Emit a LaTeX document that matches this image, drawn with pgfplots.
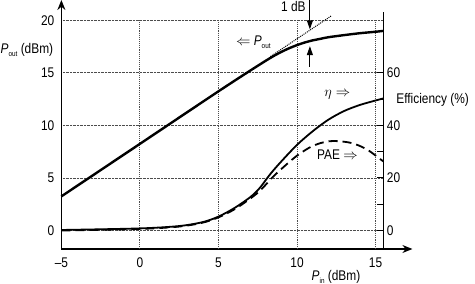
\documentclass[border=0pt]{standalone}
\usepackage{fontspec}
\setmainfont{Liberation Sans}[FakeStretch=0.85]
\usepackage{pgfplots}
\pgfplotsset{compat=1.18}
\usetikzlibrary{arrows.meta}

% Output power and efficiency of a power amplifier against input power
\pgfplotstableread{
pin   pout
-5    3.25
0     8.25
5     13.25
7     15.2
8     16.15
8.5   16.6
9     17.0
9.5   17.35
10    17.65
10.5  17.9
11    18.1
11.5  18.25
12    18.4
13    18.6
14    18.78
15    18.92
15.5  19.0
}\poutdata

\pgfplotstableread{
pin   eta
-5    0.2
0     0.8
2.5   1.7
4     3.2
5     5.3
6     8.5
7     12.6
7.6   16.0
8.3   21.5
9     26.3
10    32.6
11    37.8
12    42.2
13    45.5
14    47.8
15    49.5
15.5  50.3
}\etadata

\pgfplotstableread{
pin   pae
-5    0.0
0     0.6
2.5   1.5
4     3.0
5     5.0
6     8.0
6.8   11.2
7.6   14.9
8.5   20.6
9.3   25.0
10    28.5
10.8  31.6
11.5  33.3
12.1  34.0
12.7  34.0
13.4  33.4
14    32.2
14.6  30.3
15.3  27.2
15.5  26.3
}\paedata

\begin{document}
\begin{tikzpicture}[font=\fontsize{14}{16}\selectfont]
\pgfplotsset{
  every axis/.style={
    scale only axis, width=322pt, height=237pt,
    xmin=-5, xmax=15.5, clip=false,
  },
}
% left axis: output power
\begin{axis}[
  ymin=-1.76, ymax=20.8,
  axis x line*=bottom, axis y line*=left,
  x axis line style={-{Stealth[length=10pt,width=8pt]}, shorten >=-29pt, line width=1.5pt},
  y axis line style={-{Stealth[length=10pt,width=8pt]}, shorten >=-12pt, line width=1.5pt},
  xtick={-5,0,5,10,15},
  xticklabels={\textendash5,0,5,10,15},
  ytick={0,5,10,15,20},
  yticklabels={0,5,10,15,20},
  major tick length=0pt,
  ymajorgrids,
  major grid style={densely dotted, line width=0.9pt, black!70},
  xticklabel style={yshift=-5pt},
  yticklabel style={xshift=-3.5pt},
]
\addplot[densely dotted, line width=0.9pt, black!70] coordinates {(0,-1.76) (0,20)};
\addplot[densely dotted, line width=0.9pt, black!70] coordinates {(5,-1.76) (5,20)};
\addplot[densely dotted, line width=0.9pt, black!70] coordinates {(10,-1.76) (10,20)};
\addplot[densely dotted, line width=0.9pt, black!70] coordinates {(15,-1.76) (15,20)};

% small-signal gain extrapolation
\addplot[densely dotted, line width=1pt, black] coordinates {(8.3,16.55) (12.2,20.45)};
\addplot[line width=2.4pt, black, smooth, tension=0.5] table[x=pin, y=pout] {\poutdata};

% 1 dB compression marker
\draw[line width=1pt, -{Triangle[length=9pt,width=6pt]}] (axis cs:10.82,21.95) -- (axis cs:10.82,19.15);
\draw[line width=1pt, -{Triangle[length=9pt,width=6pt]}] (axis cs:10.82,15.6) -- (axis cs:10.82,17.55);
\node at (axis cs:9.77,21.3) {1 dB};

\node at (axis cs:7.22,17.95) {$\Leftarrow$ \textit{P}\raisebox{-0.35ex}{\fontsize{7.5}{8}\selectfont out}};
\node at (axis cs:12.57,12.9) {$\eta\Rightarrow$};
\node at (axis cs:12.57,7.19) {PAE $\Rightarrow$};
\node[anchor=west, inner sep=0pt] at (axis cs:-8.88,17.19) {\textit{P}\raisebox{-0.35ex}{\fontsize{7.5}{8}\selectfont out} (dBm)};
\node at (axis cs:12.48,-4.46) {\textit{P}\raisebox{-0.35ex}{\fontsize{7.5}{8}\selectfont in} (dBm)};
\node[anchor=west] at (axis cs:16.1,12.43) {Efficiency (\%)};
\end{axis}

% right axis: drain efficiency and power-added efficiency
\begin{axis}[
  ymin=-7.04, ymax=83.2,
  axis x line=none, axis y line*=right,
  y axis line style={-, line width=1.5pt},
  ytick={0,10,20,30,40,50,60},
  yticklabels={0,,20,,40,,60},
  tick align=inside,
  major tick length=6pt,
  tick style={line width=1pt, black},
]
\addplot[line width=1.8pt, black, smooth, tension=0.5] table[x=pin, y=eta] {\etadata};
\addplot[line width=1.8pt, black, dash pattern=on 9pt off 5pt, smooth, tension=0.5] table[x=pin, y=pae] {\paedata};
\end{axis}

\pgfresetboundingbox
\path[use as bounding box] (-61.4pt,-35pt) rectangle (413.6pt,249pt);
\end{tikzpicture}
\end{document}
